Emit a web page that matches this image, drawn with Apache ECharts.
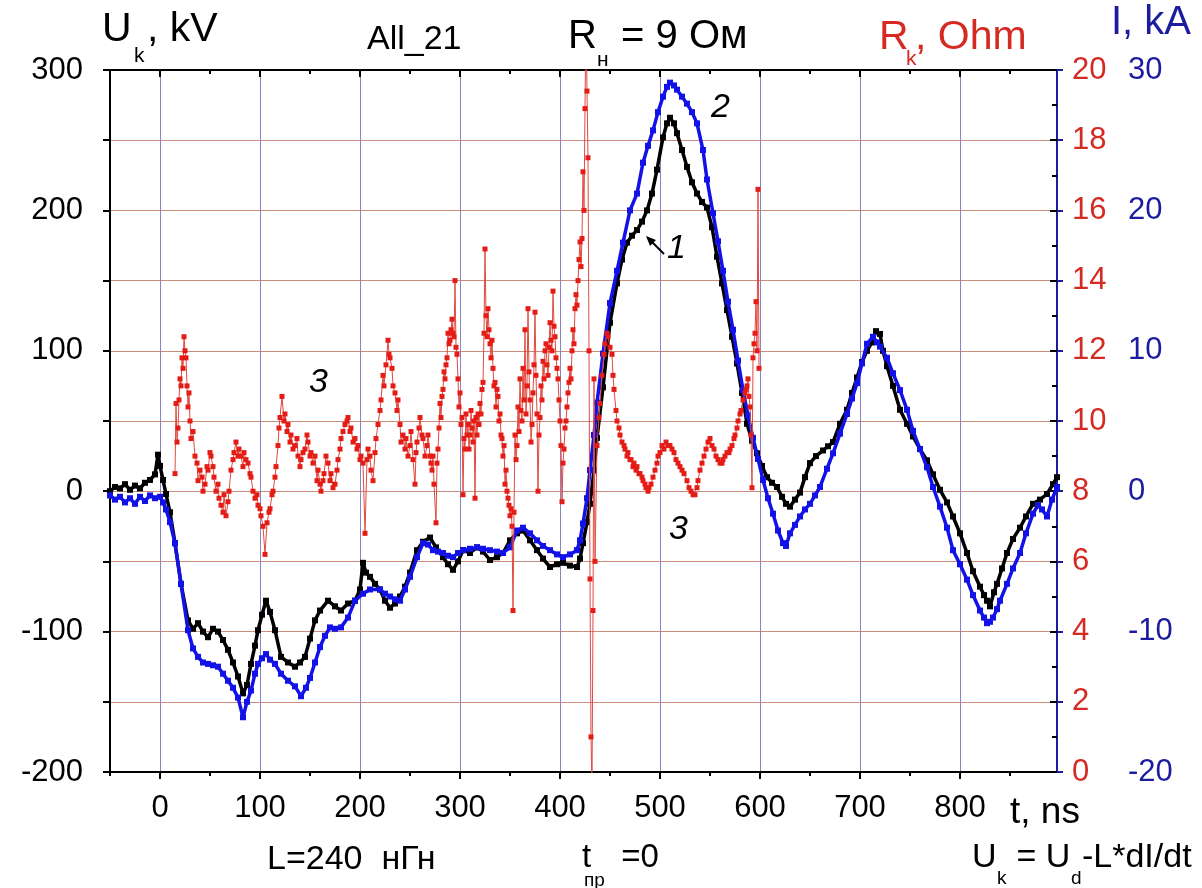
<!DOCTYPE html>
<html>
<head>
<meta charset="utf-8">
<script src="https://cdn.jsdelivr.net/npm/echarts@6.0.0/dist/echarts.min.js"></script>
<style>
html,body{margin:0;padding:0;background:#fff;}
#chart{width:1202px;height:888px;}
</style>
</head>
<body>
<div id="chart"></div>
<script>
// ---------- axis / tick data ----------
const xMin = -50, xMax = 897;
const xMajorTicks = [0, 100, 200, 300, 400, 500, 600, 700, 800];
const xMinorTicks = [-50, 50, 150, 250, 350, 450, 550, 650, 750, 850];

// ---------- curve 1: U_k, kV (black) ----------
const blackT = [-50,-45,-40,-35,-30,-25,-20,-15,-10,-5,-2,0,3,6,10,15,21,28,33,38,43,48,53,58,63,68,73,78,83,87,91,95,98,102,106,110,115,121,128,135,140,145,150,155,160,168,175,181,188,195,200,203,206,210,215,220,225,230,235,240,245,250,257,263,270,276,283,288,293,298,303,310,317,323,330,337,343,350,357,363,370,377,383,390,397,403,410,417,420,423,427,430,434,437,443,450,457,462,467,472,477,482,487,492,497,503,507,510,514,517,522,527,532,537,542,547,552,557,562,567,572,577,582,587,592,597,602,607,612,617,622,626,630,635,640,645,650,656,663,668,673,680,687,692,697,702,707,712,716,720,723,727,733,740,747,753,760,767,773,780,787,793,800,807,813,820,824,827,830,834,837,842,847,853,860,866,873,880,887,893,897];
const blackU = [0,3,2,5,1,4,2,6,8,12,26,18,8,-2,-15,-37,-66,-92,-98,-94,-100,-104,-98,-100,-106,-113,-122,-132,-144,-138,-123,-110,-99,-88,-78,-86,-99,-118,-122,-125,-122,-118,-105,-92,-85,-78,-82,-85,-80,-78,-70,-51,-58,-61,-66,-70,-78,-83,-80,-75,-68,-58,-42,-36,-33,-40,-47,-52,-56,-50,-42,-44,-40,-43,-49,-47,-44,-35,-30,-28,-35,-42,-48,-54,-52,-51,-53,-54,-48,-37,-22,-9,15,38,74,120,148,165,177,182,186,192,200,212,229,252,262,266,262,255,243,231,220,212,206,202,188,167,148,129,110,91,70,48,36,27,18,10,6,3,-4,-9,-11,-6,-1,10,20,25,29,32,35,48,58,70,81,92,100,106,114,112,100,89,75,58,48,39,30,22,12,1,-8,-18,-30,-44,-57,-68,-74,-78,-82,-72,-66,-55,-44,-34,-26,-18,-9,-6,-2,5,10];

// ---------- curve 2: I, kA (blue) ----------
const blueT = [-50,-45,-40,-35,-30,-25,-20,-15,-10,-5,0,3,6,10,15,21,28,33,38,43,48,53,58,63,68,73,78,83,87,91,95,98,102,106,110,115,121,128,135,141,146,150,155,160,165,170,175,181,188,195,203,210,220,225,230,235,240,245,250,257,263,268,273,278,283,288,293,298,303,310,317,323,330,337,343,350,357,363,370,377,383,390,397,403,410,417,420,423,427,430,434,437,443,450,457,463,470,477,483,488,493,498,503,507,510,514,517,522,527,532,537,543,547,553,558,563,568,573,578,583,588,593,598,603,608,613,618,623,626,630,635,640,645,650,655,660,667,673,680,687,692,697,702,707,713,717,720,727,733,740,747,753,760,767,773,780,787,793,800,807,813,820,824,827,830,833,837,840,847,853,860,866,873,878,882,887,892,897];
const blueI = [-0.3,-0.6,-0.4,-0.8,-0.5,-0.9,-0.4,-0.7,-0.3,-0.5,-0.4,-0.8,-1.3,-2.2,-3.7,-6.6,-9.9,-11.2,-11.8,-12.2,-12.3,-12.4,-12.5,-13.0,-13.5,-14.0,-14.7,-16.1,-15.0,-14.2,-13.0,-12.3,-11.9,-11.6,-12.0,-12.3,-13.0,-13.5,-13.9,-14.6,-14.0,-13.3,-12.2,-11.1,-10.3,-9.7,-9.8,-9.7,-9.0,-7.8,-7.3,-7.0,-7.0,-7.3,-7.5,-7.7,-7.8,-7.0,-6.1,-4.7,-3.7,-3.8,-4.2,-4.3,-4.4,-4.6,-4.7,-4.4,-4.2,-4.1,-4.0,-4.1,-4.2,-4.3,-4.4,-4.0,-2.8,-2.6,-3.0,-3.5,-3.9,-4.2,-4.5,-4.7,-4.5,-4.2,-3.5,-2.3,-0.5,1.5,4.0,6.3,9.8,13.4,15.7,17.7,20.0,21.2,23.4,24.6,25.7,27.0,28.1,28.8,29.1,28.9,28.6,28.1,27.6,27.0,26.2,24.3,22.2,19.8,17.8,15.7,13.5,11.5,9.3,7.2,5.4,3.8,2.3,0.8,-0.5,-1.6,-2.8,-3.7,-3.9,-3.0,-2.4,-1.8,-1.3,-0.9,-0.3,0.3,1.6,2.7,4.1,5.5,6.6,7.7,9.1,10.5,11.0,10.6,10.3,9.5,8.4,7.2,5.8,4.3,3.0,1.7,0.3,-1.1,-2.6,-4.2,-5.2,-6.3,-7.4,-8.5,-9.0,-9.4,-9.3,-9.0,-8.4,-7.8,-6.6,-5.5,-4.4,-3.0,-1.6,-1.0,-1.3,-1.8,-0.6,0.3];

// ---------- curve 3: R_k, Ohm (red), pairs [t, R] ----------
const redPoints = [
[15,8.5],[16,10.5],[17,9.4],[18,9.8],[19,10.6],[20,11.2],[21,11.0],[22,11.8],[23,11.5],[24,12.4],[25,12.0],[26,11.8],[27,11.0],[28,10.4],[29,10.8],[30,10.0],[31,9.5],[33,9.7],[35,9.0],[37,8.8],[38,8.3],[40,8.6],[42,8.4],[43,8.0],[45,8.2],[47,8.7],[48,8.6],[50,9.1],[51,9.0],[53,8.7],[54,8.4],[56,8.0],[58,8.2],[59,7.8],[61,7.6],[63,7.4],[64,7.9],[66,7.3],[68,7.7],[69,8.0],[71,8.6],[73,8.9],[74,9.1],[76,9.4],[78,9.0],[79,9.2],[81,9.0],[83,8.7],[84,9.1],[86,8.9],[88,8.8],[90,8.5],[91,8.4],[93,8.0],[95,7.8],[97,7.9],[98,7.6],[100,7.5],[101,7.3],[103,7.0],[105,6.2],[107,7.1],[109,7.4],[110,7.5],[112,7.9],[113,8.0],[115,8.4],[116,8.7],[118,9.3],[119,9.8],[120,10.1],[122,10.7],[124,10.0],[125,10.2],[127,9.7],[128,9.9],[130,9.4],[131,9.6],[133,9.2],[135,9.3],[137,9.5],[138,9.0],[140,8.7],[141,8.9],[143,9.1],[145,9.2],[147,9.6],[148,9.4],[150,9.0],[151,9.1],[153,8.8],[155,9.0],[157,8.3],[158,8.6],[160,8.2],[161,8.0],[163,8.3],[164,8.5],[166,9.0],[168,8.8],[170,8.3],[171,8.5],[173,8.1],[175,8.2],[177,8.6],[178,8.9],[180,9.2],[181,9.5],[183,9.7],[185,9.9],[187,10.0],[188,10.1],[190,9.7],[191,9.8],[193,9.4],[195,9.5],[197,9.2],[198,9.3],[200,8.9],[201,9.0],[203,8.8],[205,6.8],[207,8.9],
[208,9.2],[210,9.0],[211,8.6],[213,8.3],[215,9.1],[216,9.5],[218,9.9],[220,10.3],[221,10.6],[223,11.3],[224,11.0],[226,11.6],[228,12.3],[229,11.9],[230,11.8],[232,11.5],[233,11.0],[235,10.8],[237,10.3],[238,10.6],[240,9.9],[241,9.4],[243,9.6],[245,9.2],[246,9.5],[248,9.0],[250,9.3],[251,9.7],[253,8.9],[255,8.2],[256,9.1],[257,9.4],[259,9.8],[260,10.1],[262,9.6],[263,9.5],[265,9.0],[267,9.3],[268,9.6],[270,9.0],[271,8.8],[272,8.6],[273,9.0],[274,8.2],[276,7.1],[277,8.8],
[278,9.2],[279,9.8],[280,10.5],[281,10.1],[282,10.7],[283,10.9],[284,11.4],[285,11.2],[286,11.6],[287,11.8],[288,12.5],[289,12.2],[290,12.3],[291,12.6],[292,12.9],[293,12.5],[294,12.4],[295,14.0],[296,12.1],[297,11.9],[298,11.2],[299,10.4],[300,10.8],[301,9.9],[302,10.1],[303,7.9],[304,9.5],[305,9.2],[306,10.2],[307,9.6],[308,9.9],[309,9.2],[310,9.6],[311,10.3],[312,9.8],[313,9.4],[314,10.0],[315,7.8],[316,10.1],[317,9.6],[318,10.2],[319,9.9],[320,10.5],[321,10.2],[322,10.9],[323,11.1],[324,12.5],[325,14.9],[326,13.0],[327,12.4],[328,13.2],[329,12.6],[330,12.2],[331,11.8],[332,12.3],[333,11.5],[334,11.0],[335,11.1],[336,10.4],[337,10.9],[338,10.7],[339,10.0],[340,10.2],[341,9.6],[342,9.5],[343,9.0],[344,9.3],[345,8.2],[346,8.6],[347,8.0],[348,7.8],[349,7.6],[350,7.3],[351,7.5],[352,7.0],[353,4.6],[354,7.4],[355,9.6],[356,8.9],[357,9.3],[358,10.4],[359,9.7],[360,11.2],[361,10.3],[362,10.0],[363,11.5],[364,10.6],[365,12.6],[366,10.2],[367,11.0],[368,13.2],[369,11.4],[370,10.6],[371,9.4],[372,9.9],[373,10.8],[374,11.6],[375,13.1],[376,11.3],[377,10.2],[378,8.0],[379,9.6],[380,10.1],[381,11.0],[382,10.6],[383,11.7],[384,11.2],[385,12.0],[386,12.2],[387,11.6],[388,11.3],[389,12.1],[390,12.8],[391,12.3],[392,12.0],[393,13.7],[394,12.7],[395,12.4],[396,11.8],[397,11.5],[398,11.2],[399,10.6],[400,10.0],[401,9.3],[402,7.7],[403,8.8],[404,9.2],[405,9.8],[406,10.0],[407,10.4],[408,10.8],[409,11.1],[410,11.5],[411,11.2],[412,12.0],[413,12.6],[414,12.2],[415,13.2],[416,13.6],[417,13.3],[418,14.0],[419,14.6],[420,15.1],[421,14.4],[422,15.2],
[423,17.1],[424,16.0],[425,18.9],[426,21.5],[427,19.4],[428,17.5],[429,12.0],[430,5.5],[431,1.0],[432,-0.5],[433,4.6],[434,11.2],[435,6.0],[437,9.3],[439,10.1],[440,10.5],[442,11.3],[444,11.9],[445,12.2],[447,12.5],[448,12.4],[450,12.1],[452,11.9],[453,11.3],[454,10.9],[456,10.3],[457,10.0],[459,9.8],[460,9.6],[462,9.4],[464,9.3],[465,9.2],[467,9.0],[468,9.1],[470,8.9],[471,8.9],[473,8.7],[474,8.8],[476,8.6],[477,8.7],[479,8.5],[480,8.5],[482,8.4],[483,8.3],[485,8.2],[486,8.1],[488,8.0],[489,8.1],[491,8.2],[493,8.4],[495,8.6],[497,8.8],[498,9.0],[500,9.1],[502,9.3],[504,9.2],[506,9.4],[508,9.3],[510,9.3],[512,9.2],[514,9.1],[516,8.9],[518,8.8],[520,8.7],[522,8.6],[524,8.5],[527,8.3],[529,8.1],[531,8.0],[533,7.9],[535,7.9],[537,8.1],[538,8.3],[540,8.6],[542,8.8],[544,9.0],[546,9.2],[548,9.4],[550,9.5],[552,9.3],[554,9.2],[556,9.0],[558,8.9],[560,8.8],[562,8.8],[563,8.9],[565,9.0],[567,9.1],[569,9.1],[570,9.2],[572,9.3],[574,9.5],[575,9.6],[577,9.8],[578,10.0],[580,10.2],[581,10.3],[583,10.6],[585,10.8],[586,10.9],[587,11.0],[588,11.2],[589,10.7],[590,10.4],[591,9.6],[592,8.1],[593,11.8],[594,12.2],[595,12.5],[596,13.4],[597,12.0],[598,16.6],[599,11.5]
];

const zip = (a, b) => a.map((v, i) => [v, b[i]]);

const FONT = '"Liberation Sans", Arial, sans-serif';
const GRID_V = '#8a84c4';
const GRID_H = '#c98b7a';
const RED = '#d42a22';
const BLUE = '#1c1ca0';

function txt(x, y, s, size, color, extra) {
  return {
    type: 'text', x: x, y: y, z: 100,
    style: {
      text: s, fill: color || '#000',
      font: (extra && extra.italic ? 'italic ' : '') + size + 'px ' + FONT,
      textVerticalAlign: 'middle', textAlign: 'left'
    }
  };
}

const chart = echarts.init(document.getElementById('chart'), null, {renderer: 'canvas'});

const hiddenAxisBase = {
  type: 'value', min: xMin, max: xMax,
  axisLabel: {show: false}, splitLine: {show: false}
};

const option = {
  animation: false,
  backgroundColor: '#fff',
  grid: {left: 110, right: 145, top: 70, bottom: 116, containLabel: false},
  xAxis: [
    {
      type: 'value', min: xMin, max: xMax, position: 'bottom',
      axisLine: {show: true, onZero: false, lineStyle: {color: '#000', width: 2}},
      axisTick: {show: true, inside: false, length: 7, customValues: xMajorTicks, lineStyle: {color: '#000', width: 2}},
      axisLabel: {customValues: xMajorTicks, margin: 21, fontSize: 31, color: '#000', fontFamily: FONT},
      splitLine: {show: true, lineStyle: {color: GRID_V, width: 1}}
    },
    Object.assign({}, hiddenAxisBase, {
      position: 'top',
      axisLine: {show: true, onZero: false, lineStyle: {color: '#000', width: 2}},
      axisTick: {show: true, inside: true, length: 7, customValues: xMajorTicks, lineStyle: {color: '#000', width: 2}}
    }),
    Object.assign({}, hiddenAxisBase, {
      position: 'bottom',
      axisLine: {show: false, onZero: false},
      axisTick: {show: true, inside: false, length: 4, customValues: xMinorTicks, lineStyle: {color: '#000', width: 2}}
    }),
    Object.assign({}, hiddenAxisBase, {
      position: 'top',
      axisLine: {show: false, onZero: false},
      axisTick: {show: true, inside: true, length: 4, customValues: xMinorTicks, lineStyle: {color: '#000', width: 2}}
    })
  ],
  yAxis: [
    {
      type: 'value', min: -200, max: 300, interval: 50, position: 'left',
      axisLine: {show: true, onZero: false, lineStyle: {color: '#000', width: 2}},
      axisTick: {show: true, inside: false, length: 7, lineStyle: {color: '#000', width: 2}},
      axisLabel: {formatter: v => (v % 100 === 0 ? String(v) : ''), margin: 27, fontSize: 31, color: '#000', fontFamily: FONT},
      splitLine: {show: true, lineStyle: {color: GRID_H, width: 1}}
    },
    {
      type: 'value', min: 0, max: 20, interval: 2, position: 'right',
      axisLine: {show: false, onZero: false},
      axisTick: {show: true, inside: true, length: 7, lineStyle: {color: '#000', width: 2}},
      minorTick: {show: true, splitNumber: 2, length: 5, lineStyle: {color: '#000', width: 2}},
      axisLabel: {margin: 15, fontSize: 31, color: RED, fontFamily: FONT},
      splitLine: {show: false}
    },
    {
      type: 'value', min: -20, max: 30, interval: 5, position: 'right',
      axisLine: {show: true, onZero: false, lineStyle: {color: BLUE, width: 2}},
      axisTick: {show: true, inside: false, length: 6, lineStyle: {color: BLUE, width: 2}},
      axisLabel: {formatter: v => (v % 10 === 0 ? String(v) : ''), margin: 71, fontSize: 31, color: BLUE, fontFamily: FONT},
      splitLine: {show: false}
    }
  ],
  series: [
    {
      name: 'U_k', type: 'line', xAxisIndex: 0, yAxisIndex: 0,
      data: zip(blackT, blackU), symbol: 'rect', symbolSize: 6, showSymbol: true,
      lineStyle: {color: '#000', width: 3.5}, itemStyle: {color: '#000'}, z: 3, clip: true
    },
    {
      name: 'I', type: 'line', xAxisIndex: 0, yAxisIndex: 2,
      data: zip(blueT, blueI), symbol: 'rect', symbolSize: 6, showSymbol: true,
      lineStyle: {color: '#1212e8', width: 3.5}, itemStyle: {color: '#1212e8'}, z: 4, clip: true
    },
    {
      name: 'R_k', type: 'line', xAxisIndex: 0, yAxisIndex: 1,
      data: redPoints, symbol: 'rect', symbolSize: 5, showSymbol: true,
      lineStyle: {color: '#e04a40', width: 1}, itemStyle: {color: '#e41c16'}, z: 5, clip: true
    }
  ],
  graphic: [
    // top titles
    txt(102, 30, 'U', 41, '#000'),
    txt(134, 56, 'k', 21, '#000'),
    txt(147, 30, ', kV', 41, '#000'),
    txt(367, 40, 'All_21', 34, '#000'),
    txt(568, 37, 'R', 40, '#000'),
    txt(597, 60, 'н', 21, '#000'),
    txt(610, 37, ' = 9 Ом', 40, '#000'),
    txt(879, 38, 'R', 41, RED),
    txt(906, 59, 'k', 21, RED),
    txt(915, 38, ', Ohm', 41, RED),
    txt(1111, 23, 'I, kA', 40, BLUE),
    // bottom texts
    txt(1010, 813, 't, ns', 37, '#000'),
    txt(267, 860, 'L=240  нГн', 34, '#000'),
    txt(582, 858, 't', 33, '#000'),
    txt(584, 881, 'пр', 19, '#000'),
    txt(612, 858, ' =0', 33, '#000'),
    txt(972, 858, 'U', 34, '#000'),
    txt(997, 879, 'k', 19, '#000'),
    txt(1007, 858, ' = U', 34, '#000'),
    txt(1071, 879, 'd', 19, '#000'),
    txt(1082, 858, '-L*dI/dt', 34, '#000'),
    // curve annotations
    txt(711, 108, '2', 34, '#000', {italic: true}),
    txt(667, 249, '1', 34, '#000', {italic: true}),
    txt(309, 383, '3', 34, '#000', {italic: true}),
    txt(669, 530, '3', 34, '#000', {italic: true}),
    {
      type: 'line', z: 100,
      shape: {x1: 664, y1: 254, x2: 652, y2: 242},
      style: {stroke: '#000', lineWidth: 2}
    },
    {
      type: 'polygon', z: 100,
      shape: {points: [[646, 236], [656, 240], [650, 246]]},
      style: {fill: '#000'}
    }
  ]
};

chart.setOption(option);
</script>
</body>
</html>
